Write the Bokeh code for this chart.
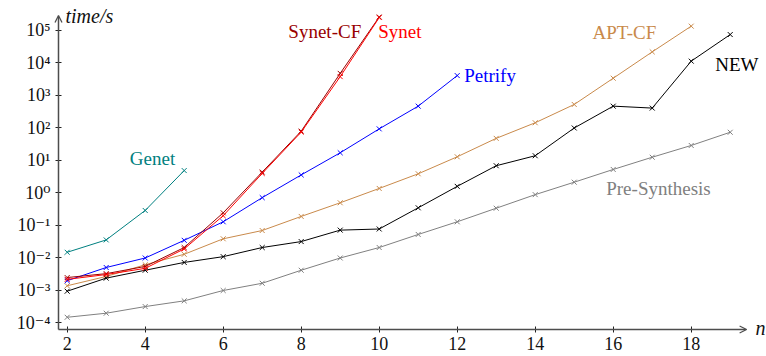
from bokeh.plotting import figure
from bokeh.models import (FixedTicker, CustomJSTickFormatter, Label, Arrow,
                          OpenHead, Range1d)
from bokeh.embed import file_html
from bokeh.resources import INLINE

# ---------------- data ----------------
n_genet = [2, 3, 4, 5]
genet = [0.015, 0.036, 0.29, 4.9]

n_petrify = [2, 3, 4, 5, 6, 7, 8, 9, 10, 11, 12]
petrify = [0.002, 0.0051, 0.01, 0.035, 0.13, 0.72, 3.6, 17.3, 94, 470, 4100]

n_synet = [2, 3, 4, 5, 6, 7, 8, 9, 10]
synet_cf = [0.0025, 0.0033, 0.0055, 0.021, 0.245, 4.4, 80, 4800, 2.6e5]
synet = [0.0022, 0.0031, 0.0048, 0.019, 0.2, 4.0, 75, 3800, 2.5e5]

n_apt = [2, 3, 4, 5, 6, 7, 8, 9, 10, 11, 12, 13, 14, 15, 16, 17, 18]
apt_cf = [0.0014, 0.0027, 0.0062, 0.013, 0.039, 0.07, 0.19, 0.5, 1.38, 3.9,
          13, 48, 145, 530, 3400, 2.2e4, 1.36e5]

n_new = [2, 3, 4, 5, 6, 7, 8, 9, 10, 11, 12, 13, 14, 15, 16, 17, 18, 19]
new = [0.00095, 0.0024, 0.0042, 0.0073, 0.011, 0.021, 0.032, 0.072, 0.078,
       0.35, 1.6, 6.9, 14, 100, 470, 410, 1.14e4, 7.5e4]

n_pre = [2, 3, 4, 5, 6, 7, 8, 9, 10, 11, 12, 13, 14, 15, 16, 17, 18, 19]
pre = [1.5e-4, 2e-4, 3.2e-4, 4.8e-4, 1e-3, 1.67e-3, 4.2e-3, 0.01, 0.021,
       0.053, 0.13, 0.34, 0.89, 2.15, 5.3, 12.6, 29, 74]

x_tick_values = [2, 4, 6, 8, 10, 12, 14, 16, 18]
x_tick_labels = ["2", "4", "6", "8", "10", "12", "14", "16", "18"]
y_tick_values = [1e-4, 1e-3, 1e-2, 1e-1, 1e0, 1e1, 1e2, 1e3, 1e4, 1e5]
y_tick_labels = ["10⁻⁴", "10⁻³", "10⁻²", "10⁻¹", "10⁰", "10¹", "10²",
                 "10³", "10⁴", "10⁵"]

# ---------------- style ----------------
FONT = "'Liberation Serif', 'DejaVu Serif', serif"
AXIS_COLOR = "#4d4d4d"
C_GENET = "#008080"
C_PETRIFY = "#0000ff"
C_SYNET_CF = "#990000"
C_SYNET = "#ff0000"
C_APT = "#c98a4b"
C_NEW = "#000000"
C_PRE = "#808080"

# axis extent (data units) and visible window
ax_x0, ax_x1 = 1.777, 19.42          # x axis from corner to arrow tip
ax_y0, ax_y1 = 10 ** -4.2, 10 ** 5.46  # y axis from corner to arrow tip
view_x = (0.29, 19.93)
view_y = (10 ** -5.031, 10 ** 5.923)

p = figure(width=766, height=356, y_axis_type="log",
           x_range=Range1d(*view_x), y_range=Range1d(*view_y),
           output_backend="svg", toolbar_location=None,
           min_border=0)
p.outline_line_color = None
p.grid.visible = False
p.background_fill_color = "white"
p.border_fill_color = "white"

# axes placed inside the frame, pgfplots "axis lines=left" style
p.xaxis.fixed_location = ax_y0
p.yaxis.fixed_location = ax_x0
p.xaxis.bounds = (ax_x0, ax_x1)
p.yaxis.bounds = (ax_y0, ax_y1)
p.xaxis.ticker = FixedTicker(ticks=x_tick_values)
p.xaxis.major_label_overrides = dict(zip(x_tick_values, x_tick_labels))
p.yaxis.ticker = FixedTicker(ticks=y_tick_values)
p.yaxis.formatter = CustomJSTickFormatter(
    args=dict(vals=y_tick_values, labs=y_tick_labels),
    code="""
    let best = 0;
    for (let i = 0; i < vals.length; i++) {
        if (Math.abs(Math.log10(vals[i]) - Math.log10(tick)) <
            Math.abs(Math.log10(vals[best]) - Math.log10(tick))) best = i;
    }
    return labs[best];
    """)
for ax in (p.xaxis, p.yaxis):
    ax.axis_line_color = None
    ax.major_tick_line_color = "#222222"
    ax.major_tick_line_width = 1
    ax.major_tick_in = 3
    ax.major_tick_out = 3
    ax.minor_tick_line_color = None
    ax.major_label_text_font = FONT
    ax.major_label_text_font_size = "18px"
    ax.major_label_text_color = "#111111"
p.yaxis.major_label_standoff = 5
p.xaxis.major_label_standoff = 5

# axis lines with arrow heads
p.add_layout(Arrow(end=OpenHead(size=7, line_color=AXIS_COLOR, line_width=1.3),
                   x_start=ax_x0, y_start=ax_y0, x_end=ax_x1, y_end=ax_y0,
                   line_color=AXIS_COLOR, line_width=1.5))
p.add_layout(Arrow(end=OpenHead(size=7, line_color=AXIS_COLOR, line_width=1.3),
                   x_start=ax_x0, y_start=ax_y0, x_end=ax_x0, y_end=ax_y1,
                   line_color=AXIS_COLOR, line_width=1.5))

# series
series = [
    (n_pre, pre, C_PRE),
    (n_genet, genet, C_GENET),
    (n_apt, apt_cf, C_APT),
    (n_new, new, C_NEW),
    (n_petrify, petrify, C_PETRIFY),
    (n_synet, synet_cf, C_SYNET_CF),
    (n_synet, synet, C_SYNET),
]
for xs, ys, c in series:
    p.line(xs, ys, line_color=c, line_width=1)
    p.scatter(xs, ys, marker="x", size=7, line_color=c, line_width=1)

# series labels anchored to data points
labels = [
    ("Genet", n_genet[-1], genet[-1], -9, 12, "right", C_GENET),
    ("Synet-CF", n_synet[-1], synet_cf[-1], -18, -14, "right", C_SYNET_CF),
    ("Synet", n_synet[-1], synet[-1], -1, -14, "left", C_SYNET),
    ("Petrify", n_petrify[-1], petrify[-1], 7, 0, "left", C_PETRIFY),
    ("APT-CF", n_apt[-1], apt_cf[-1], -35, -6, "right", C_APT),
    ("NEW", n_new[-1], new[-1], -15, -30, "left", C_NEW),
    ("Pre-Synthesis", n_pre[14], pre[14], -7, -19, "left", C_PRE),
]
for txt, lx, ly, dx, dy, al, c in labels:
    p.add_layout(Label(x=lx, y=ly, text=txt, x_offset=dx, y_offset=dy,
                       text_align=al, text_baseline="middle",
                       text_font=FONT, text_font_size="19px", text_color=c))

# axis labels
p.add_layout(Label(x=ax_x0, y=ax_y1, text="time/s", x_offset=7, y_offset=0,
                   text_align="left", text_baseline="middle",
                   text_font=FONT, text_font_style="italic",
                   text_font_size="20px", text_color="#111111"))
p.add_layout(Label(x=ax_x1, y=ax_y0, text="n", x_offset=9, y_offset=1,
                   text_align="left", text_baseline="middle",
                   text_font=FONT, text_font_style="italic",
                   text_font_size="20px", text_color="#111111"))

open("out.html", "w").write(file_html(p, INLINE))
